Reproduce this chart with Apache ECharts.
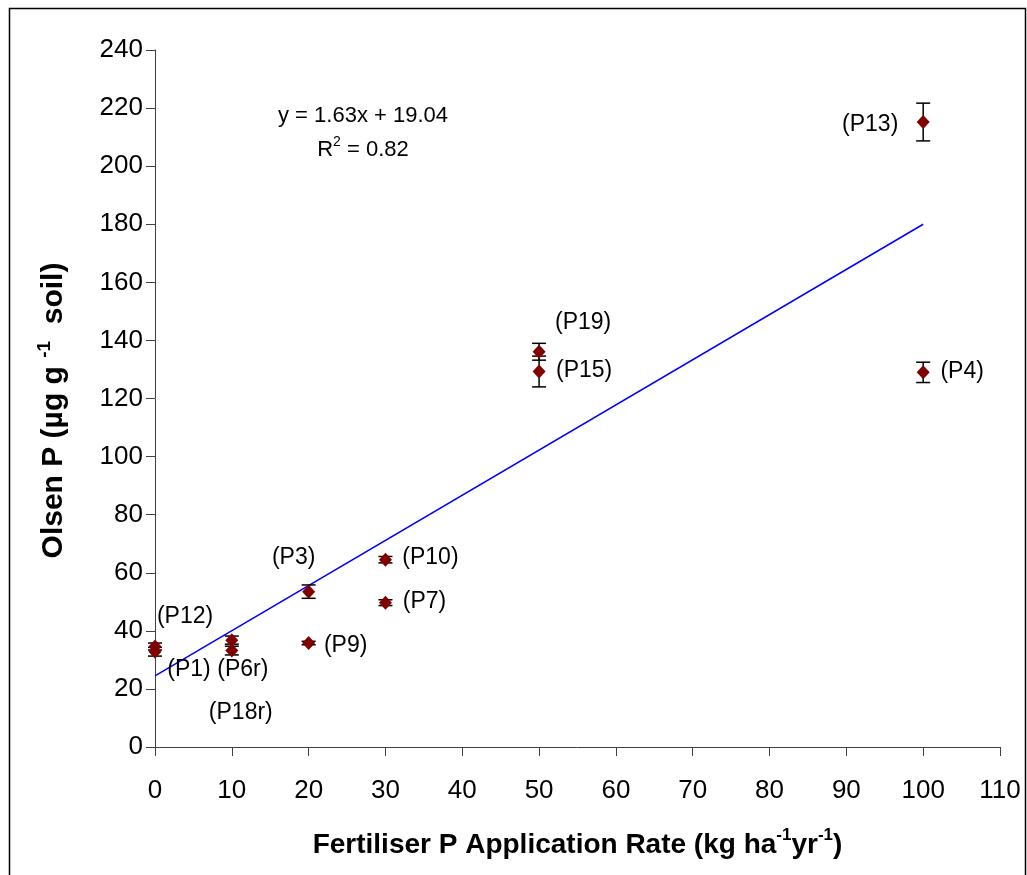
<!DOCTYPE html>
<html>
<head>
<meta charset="utf-8">
<script src="https://cdn.jsdelivr.net/npm/echarts@6/dist/echarts.min.js"></script>
<style>html,body{margin:0;padding:0;background:#fff}#c{width:1027px;height:875px}</style>
</head>
<body>
<div id="c"></div>
<script>
// ---- data ----
var plotNames = ['P12','P1','P6r','P18r','P3','P9','P10','P7','P19','P15','P13','P4'];
var rateX     = [0, 0, 10, 10, 20, 20, 30, 30, 50, 50, 100, 100];
var olsenP    = [34.6, 32.8, 36.8, 33.2, 53.5, 35.8, 64.5, 49.7, 136.1, 129.3, 215.2, 129.0];
var errP      = [1.2, 1.5, 1.4, 1.5, 2.3, 0.6, 1.1, 1.0, 2.9, 5.3, 6.5, 3.5];
var trendX    = [0, 100];
var trendY    = [24.5, 180];
var xTicks    = {min: 0, max: 110, interval: 10};
var yTicks    = {min: 0, max: 240, interval: 20};

// label pixel offsets (style)
var labelOffsets = {
  'P12':[30,-30], 'P1':[34,18], 'P6r':[11,30], 'P18r':[9,62], 'P3':[-15,-34],
  'P9':[37,3], 'P10':[45,-2], 'P7':[39,-1], 'P19':[44,-29], 'P15':[45,-1],
  'P13':[-53,3], 'P4':[39,-1]
};

var pts = rateX.map(function(x,i){ return [x, olsenP[i], errP[i], plotNames[i]]; });

var font = 'Liberation Sans, Arial, sans-serif';
var chart = echarts.init(document.getElementById('c'));
chart.setOption({
  animation: false,
  backgroundColor: '#fff',
  grid: {left: 155, right: 27, top: 50, bottom: 128, containLabel: false},
  xAxis: {
    type: 'value', min: xTicks.min, max: xTicks.max, interval: xTicks.interval,
    axisLine: {onZero: false, lineStyle: {color: '#404040', width: 1}},
    axisTick: {show: true, inside: false, length: 9, lineStyle: {color: '#404040'}},
    axisLabel: {color: '#000', fontSize: 26, fontFamily: font, margin: 31},
    splitLine: {show: false},
    name: '{b|Fertiliser P Application Rate (kg ha}{s|-1}{b|yr}{s|-1}{b|)}',
    nameLocation: 'middle', nameGap: 80,
    nameTextStyle: {
      rich: {
        b: {fontSize: 28, fontWeight: 'bold', fontFamily: font, color: '#000', verticalAlign: 'bottom', lineHeight: 32},
        s: {fontSize: 17, fontWeight: 'bold', fontFamily: font, color: '#000', verticalAlign: 'top', lineHeight: 32}
      }
    }
  },
  yAxis: {
    type: 'value', min: yTicks.min, max: yTicks.max, interval: yTicks.interval,
    axisLine: {show: true, lineStyle: {color: '#404040', width: 1}},
    axisTick: {show: true, inside: false, length: 9, lineStyle: {color: '#404040'}},
    axisLabel: {color: '#000', fontSize: 26, fontFamily: font, margin: 12},
    splitLine: {show: false},
    name: '{b|Olsen P (µg g }{s|-1}{e|  soil)}',
    nameLocation: 'middle', nameGap: 86,
    nameTextStyle: {
      rich: {
        b: {fontSize: 30, fontWeight: 'bold', fontFamily: font, color: '#000', verticalAlign: 'bottom', lineHeight: 34},
        s: {fontSize: 19, fontWeight: 'bold', fontFamily: font, color: '#000', verticalAlign: 'top', lineHeight: 34},
        e: {fontSize: 30, fontWeight: 'bold', fontFamily: font, color: '#000', verticalAlign: 'bottom', lineHeight: 34, padding: [0, 24, 0, 0]}
      }
    }
  },
  graphic: [
    {type: 'rect', shape: {x: 9.5, y: 8.5, width: 1016, height: 900}, style: {fill: 'none', stroke: '#000', lineWidth: 1.5}, silent: true, z: -1},
    {type: 'text', x: 363, y: 116, style: {text: 'y = 1.63x + 19.04', fontSize: 22, fontFamily: font, fill: '#000', align: 'center', verticalAlign: 'middle'}},
    {type: 'text', x: 363, y: 148, style: {
      text: '{n|R}{s|2}{n| = 0.82}', align: 'center', verticalAlign: 'middle',
      rich: {
        n: {fontSize: 22, fontFamily: font, fill: '#000', color: '#000', verticalAlign: 'bottom', lineHeight: 26},
        s: {fontSize: 14, fontFamily: font, fill: '#000', color: '#000', verticalAlign: 'top', lineHeight: 26}
      }
    }}
  ],
  series: [
    {
      type: 'line', data: trendX.map(function(x,i){ return [x, trendY[i]]; }),
      symbol: 'none', lineStyle: {color: '#0000ff', width: 1.5}, z: 2, silent: true
    },
    {
      type: 'custom', z: 3,
      data: pts,
      renderItem: function(params, api){
        var x = api.value(0), y = api.value(1), e = api.value(2);
        var top = api.coord([x, y + e]), bot = api.coord([x, y - e]);
        var hw = 7;
        var st = {stroke: '#000', lineWidth: 1.5};
        return {type: 'group', children: [
          {type: 'line', shape: {x1: top[0], y1: top[1], x2: bot[0], y2: bot[1]}, style: st},
          {type: 'line', shape: {x1: top[0]-hw, y1: top[1], x2: top[0]+hw, y2: top[1]}, style: st},
          {type: 'line', shape: {x1: bot[0]-hw, y1: bot[1], x2: bot[0]+hw, y2: bot[1]}, style: st}
        ]};
      }
    },
    {
      type: 'scatter', z: 4,
      data: pts.map(function(p){
        var off = labelOffsets[p[3]];
        return {value: p, label: {show: true, offset: off, color: '#000'}};
      }),
      symbol: 'diamond', symbolSize: [13, 14],
      itemStyle: {color: '#800000', opacity: 1},
      label: {
        show: true, position: 'inside', formatter: function(d){ return '(' + d.value[3] + ')'; },
        color: '#000', fontSize: 23, fontFamily: font
      }
    }
  ]
});
</script>
</body>
</html>
